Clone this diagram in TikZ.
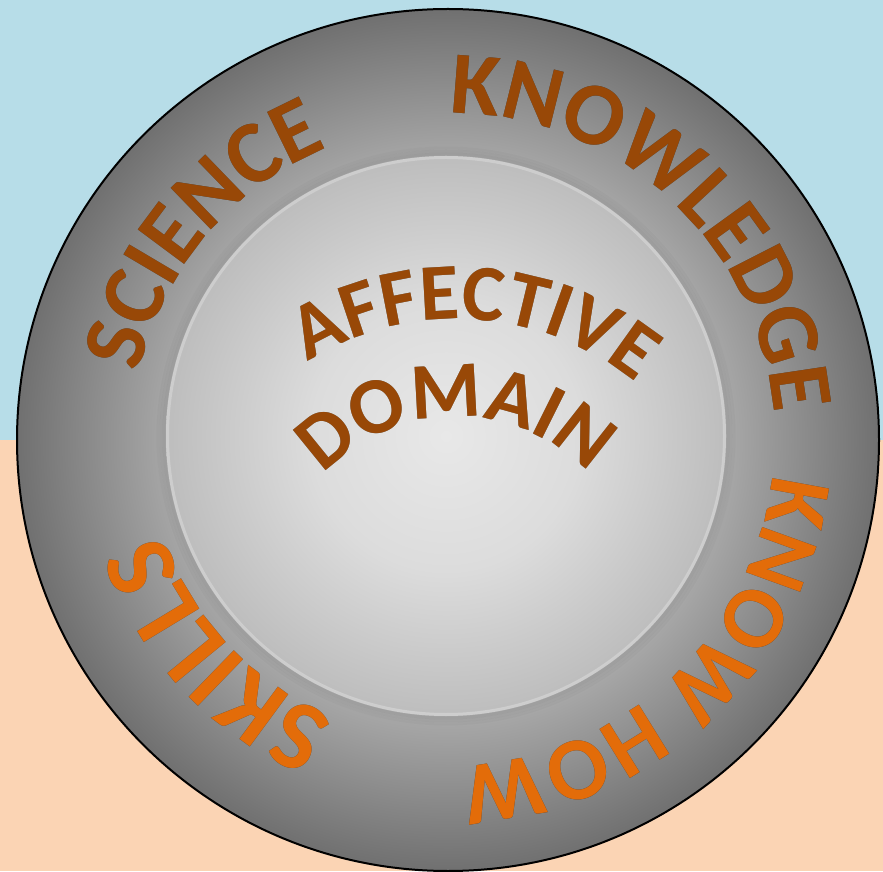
\documentclass[tikz,border=0pt]{standalone}
\usepackage{fontspec}
\newfontfamily\carl{Carlito}
\usetikzlibrary{decorations.text}
\definecolor{bgblue}{HTML}{B7DDE8}
\definecolor{bgpeach}{HTML}{FBD4B4}
\definecolor{brn}{HTML}{984807}
\definecolor{org}{HTML}{E36C09}
\definecolor{ringA}{HTML}{C8C8C8}
\definecolor{ringB}{HTML}{A8A8A8}
\definecolor{ringC}{HTML}{707070}
\definecolor{innA}{HTML}{E8E8E8}
\definecolor{innB}{HTML}{DCDCDC}
\definecolor{innC}{HTML}{BDBDBD}
\pgfdeclareradialshading{ringshade}{\pgfpoint{0bp}{0bp}}{color(0bp)=(ringA); color(16.2bp)=(ringB); color(25bp)=(ringC); color(50bp)=(ringC)}
\pgfdeclareradialshading{innershade}{\pgfpoint{0bp}{0bp}}{color(0bp)=(innA); color(12bp)=(innB); color(25bp)=(innC); color(50bp)=(innC)}
\newcommand\outerfmt{\carl\bfseries\fontsize{89}{89}\selectfont}
\newcommand\bigfmt{\carl\bfseries\fontsize{100}{100}\selectfont}
\newcommand\innerfmt{\carl\bfseries\fontsize{80}{80}\selectfont}
\newcommand\arctext[6]{%
 \foreach \dx/\dy/\op in {3/-4/0.22,6/-7/0.16,4.5/-5.5/0.22}{%
  \begin{scope}[opacity=\op,shift={(\dx,\dy)}]
   \path[decorate,decoration={text along path,text align=center,text={|#5\color{black}|#6}}] (#1) ++({#3+#4}:#2pt) arc[start angle={#3+#4},end angle={#3-#4},radius=#2pt];
  \end{scope}}%
 \path[decorate,decoration={text along path,text align=center,text={|#5|#6}}] (#1) ++({#3+#4}:#2pt) arc[start angle={#3+#4},end angle={#3-#4},radius=#2pt];
}
\begin{document}
\begin{tikzpicture}[x=1pt,y=1pt]
\useasboundingbox (0,0) rectangle (883,871);
\clip (0,0) rectangle (883,871);
\fill[bgblue] (0,431) rectangle (883,871);
\fill[bgpeach] (0,0) rectangle (883,431);
\coordinate (oc) at (448,431);
\coordinate (ic) at (446,435);
\coordinate (tc) at (457,272);
\shade[shading=ringshade] (oc) circle[radius=431pt];
\draw[black,line width=2pt] (oc) circle[radius=431pt];
\foreach \r/\o in {282/0.05,285/0.035,288/0.02}{\draw[black,opacity=\o,line width=3pt] (ic) circle[radius=\r pt];}
\shade[shading=innershade] (ic) circle[radius=280pt];
\draw[white,opacity=0.25,line width=3pt] (ic) circle[radius=278.5pt];
\arctext{oc}{316}{140}{60}{\outerfmt\color{brn}}{SCIENCE}
\arctext{oc}{327}{47.2}{60}{\outerfmt\color{brn}}{KNOWLEDGE}
\arctext{oc}{326}{-47}{60}{\outerfmt\color{org}}{KNOW HOW}
\arctext{oc}{300}{223}{60}{\bigfmt\color{org}}{SKILLS}
\arctext{tc}{280}{86.3}{50}{\innerfmt\color{brn}}{AFFECTIVE}
\arctext{tc}{182}{90.3}{70}{\innerfmt\color{brn}}{DOMAIN}
\end{tikzpicture}
\end{document}
